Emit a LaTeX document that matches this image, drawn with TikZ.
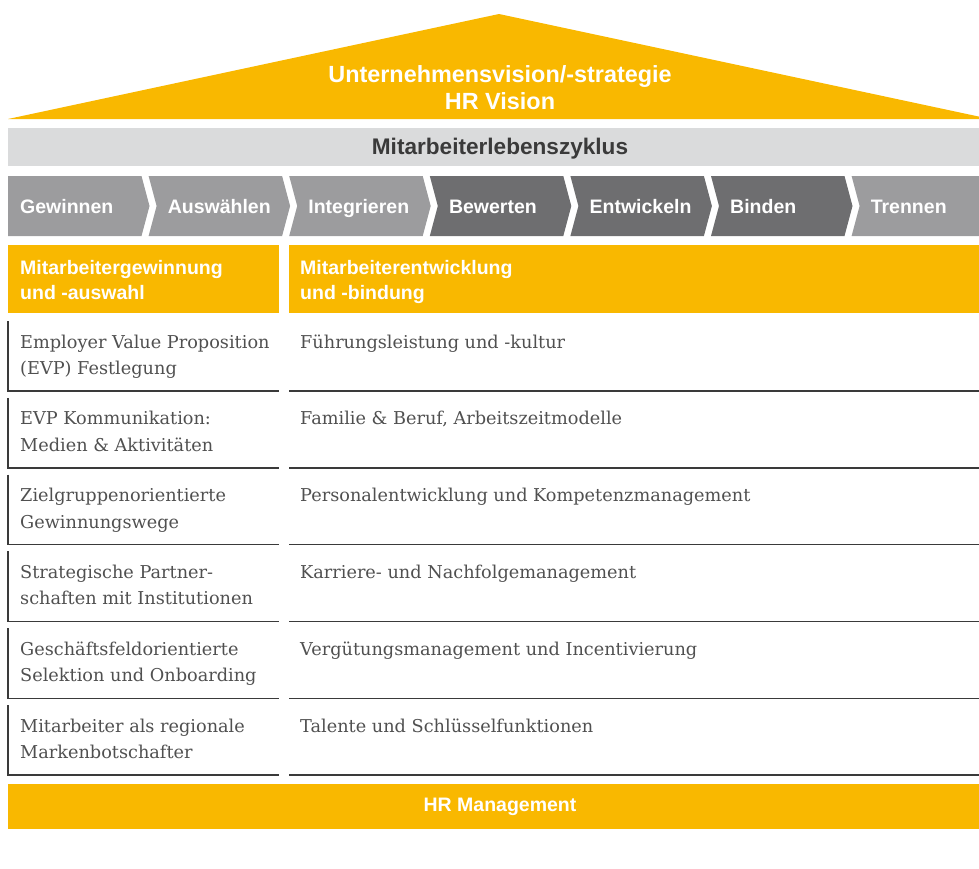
\documentclass[tikz,border=0pt]{standalone}
\usepackage{fontspec}
\setmainfont{DejaVu Serif}
\newfontfamily\hdfont{Liberation Sans}
\usetikzlibrary{positioning}

\definecolor{hrYellow}{HTML}{F9B800}
\definecolor{barGray}{HTML}{DADBDC}
\definecolor{chevLight}{HTML}{9C9C9E}
\definecolor{chevDark}{HTML}{6E6E70}
\definecolor{rowText}{HTML}{505050}
\definecolor{rowLine}{HTML}{3A3A3A}

\begin{document}
\begin{tikzpicture}[x=1pt,y=-1pt,
    headtext/.style={text=white,inner sep=0pt,font=\hdfont\bfseries\fontsize{19.5}{25}\selectfont},
    rowtext/.style={text=rowText,inner sep=0pt,align=left,anchor=base west,font=\fontsize{17.7}{26.5}\selectfont},
    rowrule/.style={draw=rowLine,line width=1.4pt}]
            \useasboundingbox (0,0) rectangle (979,868);
            % roof
            \fill [hrYellow] (499,14) -- (979,116.6) -- (979,119) -- (8,119) -- cycle;
            \node (vision) [headtext,align=center,font=\hdfont\bfseries\fontsize{23.4}{27}\selectfont] at (500,88) {Unternehmensvision/-strategie\\HR Vision};
            % lifecycle bar
            \fill [barGray] (8,128) rectangle (979,166);
            \node (zyklus) [headtext,text=rowLine,font=\hdfont\bfseries\fontsize{22.6}{27}\selectfont] at (500,148.5) {Mitarbeiterlebenszyklus};
            % chevrons
            \fill [chevLight] (8,176) -- (141.5,176) -- (149.5,206) -- (141.5,236) -- (8,236) -- cycle;
            \foreach \i/\col in {1/chevLight,2/chevLight,3/chevDark,4/chevDark,5/chevDark} {
                \pgfmathsetmacro{\L}{8+140.6*\i}
                \fill [\col] (\L,176) -- (\L+133.5,176) -- (\L+141.5,206) -- (\L+133.5,236) -- (\L,236) -- (\L+8,206) -- cycle;
            }
            \fill [chevLight] (851.6,176) -- (979,176) -- (979,236) -- (851.6,236) -- (859.6,206) -- cycle;
            \node (gewinnen) [headtext,anchor=base west] at (20,213) {Gewinnen};
            \foreach \i/\name/\txt in {1/auswaehlen/Auswählen,2/integrieren/Integrieren,3/bewerten/Bewerten,4/entwickeln/Entwickeln,5/binden/Binden,6/trennen/Trennen} {
                \pgfmathsetmacro{\L}{8+140.6*\i}
                \node (\name) [headtext,anchor=base west] at (\L+19,213) {\txt};
            }
            % column heads
            \fill [hrYellow] (8,245) rectangle (279,313);
            \fill [hrYellow] (289,245) rectangle (979,313);
            \node (gewinnHead) [headtext,anchor=base west,align=left] at (20,299.5) {Mitarbeitergewinnung\\und -auswahl};
            \node (entwHead) [headtext,anchor=base west,align=left] at (300,299.5) {Mitarbeiterentwicklung\\und -bindung};
            % rows
            \foreach \i/\lefttxt/\righttxt in {
                0/{Employer Value Proposition\\(EVP) Festlegung}/{Führungsleistung und -kultur},
                1/{EVP Kommunikation:\\Medien \& Aktivitäten}/{Familie \& Beruf, Arbeitszeitmodelle},
                2/{Zielgruppenorientierte\\Gewinnungswege}/{Personalentwicklung und Kompetenzmanagement},
                3/{Strategische Partner-\\schaften mit Institutionen}/{Karriere- und Nachfolgemanagement},
                4/{Geschäftsfeldorientierte\\Selektion und Onboarding}/{Vergütungsmanagement und Incentivierung},
                5/{Mitarbeiter als regionale\\Markenbotschafter}/{Talente und Schlüsselfunktionen}} {
                \pgfmathsetmacro{\B}{391+76.8*\i}
                \draw [rowrule] (8,\B-70) -- (8,\B) -- (279,\B);
                \draw [rowrule] (289,\B) -- (979,\B);
                \node (left\i) [rowtext] at (20,\B-16.5) {\lefttxt};
                \node (right\i) [rowtext] at (300,\B-43) {\righttxt};
            }
            % base
            \fill [hrYellow] (8,784) rectangle (979,829);
            \node (hrMgmt) [headtext] at (500,806.5) {HR Management};
\end{tikzpicture}
\end{document}
